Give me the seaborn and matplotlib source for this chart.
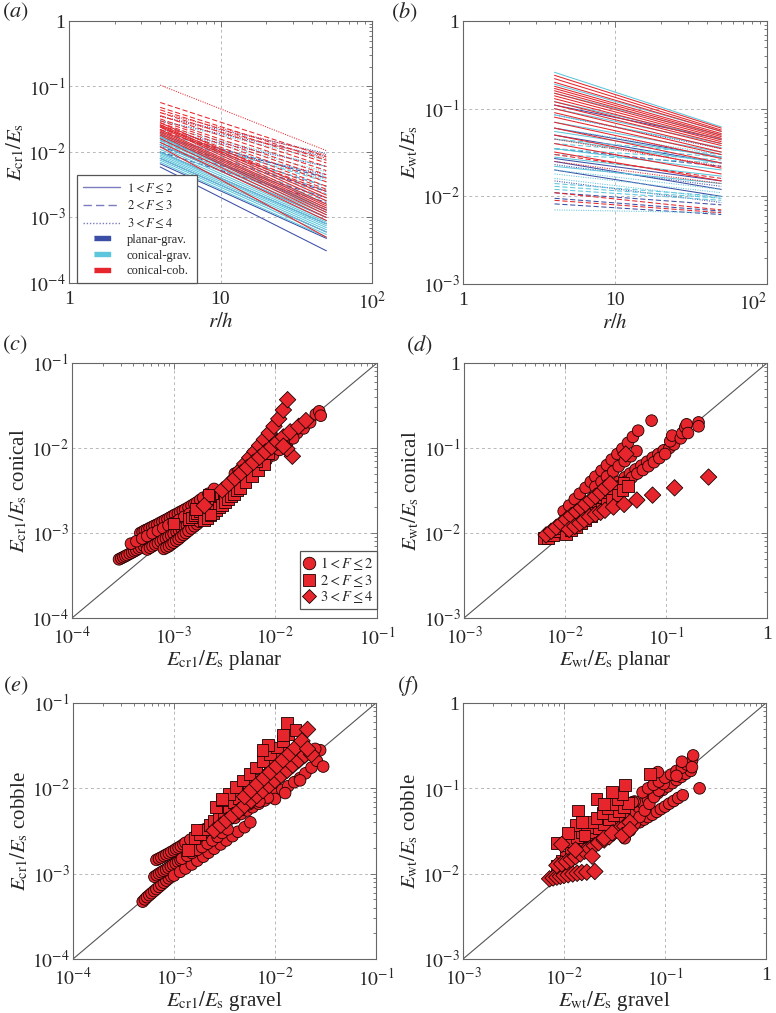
import pandas as pd
import matplotlib
matplotlib.use("Agg")
import matplotlib.pyplot as plt
import seaborn as sns
from matplotlib.lines import Line2D
from matplotlib.ticker import NullFormatter

sns.set_style("white")
plt.rcParams["font.family"] = ["Liberation Serif", "DejaVu Serif"]
plt.rcParams["mathtext.fontset"] = "stix"

# ---------------------------------------------------------------- data
R_H = [4, 50]  # r/h at both ends of every line (power laws -> straight in log-log)

# (F class, value at r/h=4, value at r/h=50) for panel (a)
A_PLANAR = [
    (3, 0.035, 0.0095), (3, 0.030, 0.0085), (3, 0.022, 0.0060), (3, 0.016, 0.0045),
    (2, 0.020, 0.0040), (2, 0.018, 0.0030), (2, 0.015, 0.0025), (2, 0.012, 0.0020), (2, 0.010, 0.0017),
    (1, 0.017, 0.0013), (1, 0.013, 0.0010), (1, 0.010, 0.0008), (1, 0.008, 0.0006),
    (1, 0.0066, 0.00048), (1, 0.0059, 0.00031),
]
A_CON_GRAV = [
    (3, 0.030, 0.0075), (3, 0.025, 0.0060), (3, 0.022, 0.0050), (3, 0.020, 0.0042), (3, 0.018, 0.0038),
    (2, 0.020, 0.0035), (2, 0.018, 0.0030), (2, 0.017, 0.0026), (2, 0.016, 0.0023), (2, 0.015, 0.0020),
    (2, 0.014, 0.0018),
    (1, 0.019, 0.0016), (1, 0.017, 0.0014), (1, 0.016, 0.0013), (1, 0.015, 0.0012), (1, 0.014, 0.0011),
    (1, 0.013, 0.0010), (1, 0.012, 0.0009), (1, 0.011, 0.00085), (1, 0.010, 0.0008), (1, 0.0095, 0.00075),
    (1, 0.009, 0.0007), (1, 0.0085, 0.00065), (1, 0.008, 0.0006), (1, 0.0075, 0.00055), (1, 0.007, 0.0005),
]
A_CON_COB = [
    (3, 0.105, 0.0105), (3, 0.040, 0.0090), (3, 0.035, 0.0080),
    (2, 0.057, 0.0085), (2, 0.048, 0.0075), (2, 0.044, 0.0068), (2, 0.040, 0.0060), (2, 0.036, 0.0052),
    (2, 0.032, 0.0045), (2, 0.030, 0.0040), (2, 0.028, 0.0035), (2, 0.026, 0.0030), (2, 0.024, 0.0027),
    (2, 0.022, 0.0025),
    (1, 0.028, 0.0022), (1, 0.026, 0.0020), (1, 0.025, 0.0018), (1, 0.024, 0.0016), (1, 0.022, 0.0015),
    (1, 0.021, 0.0014), (1, 0.020, 0.0013), (1, 0.019, 0.0012), (1, 0.018, 0.0011), (1, 0.016, 0.0010),
    (1, 0.014, 0.0009), (1, 0.012, 0.0005),
]

# panel (b)
B_PLANAR = [
    (1, 0.11, 0.045), (1, 0.060, 0.028), (1, 0.050, 0.024), (1, 0.027, 0.015), (1, 0.025, 0.012),
    (1, 0.020, 0.010),
    (2, 0.035, 0.022), (2, 0.011, 0.008), (2, 0.0095, 0.0068), (2, 0.0082, 0.0062),
    (3, 0.085, 0.035), (3, 0.023, 0.013), (3, 0.015, 0.0085),
]
B_CON_GRAV = [
    (1, 0.26, 0.062), (1, 0.19, 0.055), (1, 0.15, 0.050), (1, 0.12, 0.045), (1, 0.10, 0.040),
    (1, 0.085, 0.036), (1, 0.070, 0.032), (1, 0.055, 0.028), (1, 0.045, 0.024), (1, 0.035, 0.020),
    (1, 0.028, 0.017), (1, 0.022, 0.014),
    (2, 0.045, 0.030), (2, 0.040, 0.028), (2, 0.035, 0.026), (2, 0.030, 0.024), (2, 0.014, 0.010),
    (2, 0.013, 0.0095), (2, 0.012, 0.009),
    (3, 0.060, 0.030), (3, 0.020, 0.012), (3, 0.018, 0.011), (3, 0.016, 0.0095), (3, 0.007, 0.0065),
]
B_CON_COB = [
    (1, 0.24, 0.060), (1, 0.22, 0.057), (1, 0.20, 0.055), (1, 0.18, 0.052), (1, 0.17, 0.050),
    (1, 0.16, 0.048), (1, 0.15, 0.046), (1, 0.14, 0.044), (1, 0.13, 0.042), (1, 0.12, 0.040),
    (1, 0.11, 0.038), (1, 0.10, 0.035), (1, 0.09, 0.032), (1, 0.08, 0.030), (1, 0.07, 0.027),
    (1, 0.06, 0.024), (1, 0.05, 0.021), (1, 0.04, 0.018), (1, 0.032, 0.015),
    (2, 0.030, 0.016), (2, 0.011, 0.0070), (2, 0.009, 0.0065),
    (3, 0.045, 0.022), (3, 0.025, 0.014),
]

# scatter panels: (x, y) pairs per F class (1: circles, 2: squares, 3: diamonds)
C_CIRCLES = [
    (2.9e-4, 4.9e-4), (3.05e-4, 5.05e-4), (3.2e-4, 5.2e-4), (3.35e-4, 5.35e-4), (3.5e-4, 5.5e-4),
    (3.7e-4, 5.7e-4), (3.9e-4, 5.9e-4), (4.1e-4, 6.1e-4), (4.3e-4, 6.3e-4), (4.55e-4, 6.55e-4),
    (4.8e-4, 6.8e-4), (5.1e-4, 7.05e-4), (5.4e-4, 7.3e-4), (5.7e-4, 7.6e-4), (6.0e-4, 7.9e-4),
    (6.35e-4, 8.2e-4), (6.7e-4, 8.5e-4), (7.1e-4, 8.85e-4), (7.5e-4, 9.2e-4), (7.95e-4, 9.6e-4),
    (8.4e-4, 1.0e-3), (8.9e-4, 1.05e-3), (9.4e-4, 1.1e-3),
    (4.7e-4, 1.0e-3), (4.95e-4, 1.03e-3), (5.2e-4, 1.07e-3), (5.5e-4, 1.1e-3), (5.8e-4, 1.14e-3),
    (6.15e-4, 1.18e-3), (6.5e-4, 1.22e-3), (6.9e-4, 1.26e-3), (7.3e-4, 1.31e-3), (7.75e-4, 1.36e-3),
    (8.2e-4, 1.41e-3), (8.7e-4, 1.46e-3), (9.2e-4, 1.52e-3), (9.75e-4, 1.58e-3), (1.03e-3, 1.64e-3),
    (1.1e-3, 1.7e-3), (1.16e-3, 1.77e-3), (1.23e-3, 1.83e-3), (1.3e-3, 1.9e-3), (1.4e-3, 2.0e-3),
    (1.5e-3, 2.1e-3), (1.6e-3, 2.2e-3), (1.7e-3, 2.3e-3), (1.82e-3, 2.45e-3), (1.95e-3, 2.6e-3),
    (2.2e-3, 2.9e-3), (2.5e-3, 3.3e-3),
    (3.8e-4, 7.5e-4), (4.3e-4, 8.0e-4), (4.9e-4, 8.6e-4), (5.5e-4, 9.2e-4), (6.2e-4, 9.9e-4),
    (7.0e-4, 1.06e-3), (7.9e-4, 1.14e-3), (8.9e-4, 1.23e-3), (1.0e-3, 1.32e-3), (1.13e-3, 1.43e-3),
    (1.27e-3, 1.55e-3), (1.43e-3, 1.68e-3),
    (5.5e-4, 6.4e-4), (5.85e-4, 6.7e-4), (6.2e-4, 7.0e-4), (6.6e-4, 7.3e-4), (7.0e-4, 7.6e-4),
    (7.45e-4, 7.95e-4), (7.9e-4, 8.3e-4), (8.4e-4, 8.65e-4), (8.9e-4, 9.0e-4), (9.45e-4, 9.4e-4),
    (1.0e-3, 9.8e-4), (1.07e-3, 1.03e-3), (1.13e-3, 1.07e-3), (1.2e-3, 1.12e-3), (1.27e-3, 1.17e-3),
    (1.35e-3, 1.22e-3), (1.43e-3, 1.28e-3), (1.6e-3, 1.4e-3), (1.8e-3, 1.55e-3), (2.0e-3, 1.7e-3),
    (8.0e-4, 6.5e-4), (8.5e-4, 6.75e-4), (9.0e-4, 7.0e-4), (9.5e-4, 7.35e-4), (1.0e-3, 7.7e-4),
    (1.06e-3, 8.1e-4), (1.12e-3, 8.5e-4), (1.18e-3, 9.0e-4), (1.25e-3, 9.5e-4), (1.32e-3, 1.0e-3),
    (1.4e-3, 1.06e-3), (1.5e-3, 1.13e-3), (1.6e-3, 1.2e-3), (1.7e-3, 1.27e-3), (1.8e-3, 1.35e-3),
    (2.0e-3, 1.55e-3), (2.3e-3, 1.8e-3), (2.6e-3, 2.1e-3), (3.0e-3, 2.5e-3),
    (4.0e-3, 5.0e-3), (4.6e-3, 5.6e-3), (5.3e-3, 6.2e-3), (6.1e-3, 6.9e-3), (7.0e-3, 7.7e-3),
    (8.1e-3, 8.6e-3), (9.3e-3, 9.6e-3), (1.07e-2, 1.07e-2), (1.23e-2, 1.2e-2), (1.42e-2, 1.35e-2),
    (1.64e-2, 1.5e-2), (1.9e-2, 1.7e-2), (2.2e-2, 2.0e-2), (2.5e-2, 2.5e-2),
    (6.0e-3, 5.5e-3), (7.0e-3, 6.3e-3), (8.2e-3, 7.2e-3), (9.5e-3, 8.2e-3), (1.1e-2, 9.5e-3),
    (1.3e-2, 1.1e-2), (1.5e-2, 1.3e-2), (2.7e-2, 2.7e-2), (2.8e-2, 2.4e-2),
]
C_SQUARES = [
    (1.4e-3, 1.45e-3), (1.5e-3, 1.52e-3), (1.6e-3, 1.6e-3), (1.7e-3, 1.7e-3), (1.8e-3, 1.8e-3),
    (1.9e-3, 1.9e-3), (2.0e-3, 2.0e-3), (2.15e-3, 2.12e-3), (2.3e-3, 2.25e-3), (2.45e-3, 2.38e-3),
    (2.6e-3, 2.5e-3), (2.75e-3, 2.65e-3), (2.9e-3, 2.8e-3), (3.1e-3, 2.95e-3), (3.3e-3, 3.1e-3),
    (3.5e-3, 3.3e-3), (3.7e-3, 3.5e-3), (3.95e-3, 3.7e-3), (4.2e-3, 3.9e-3), (4.5e-3, 4.15e-3),
    (4.8e-3, 4.4e-3), (5.1e-3, 4.7e-3), (5.4e-3, 5.0e-3), (6.1e-3, 5.6e-3),
    (2.0e-3, 1.4e-3), (2.15e-3, 1.5e-3), (2.3e-3, 1.6e-3), (2.45e-3, 1.72e-3), (2.6e-3, 1.85e-3),
    (2.8e-3, 2.0e-3), (3.0e-3, 2.15e-3), (3.2e-3, 2.32e-3), (3.4e-3, 2.5e-3), (3.65e-3, 2.7e-3),
    (3.9e-3, 2.9e-3), (4.2e-3, 3.15e-3), (4.5e-3, 3.4e-3), (5.1e-3, 4.0e-3), (5.9e-3, 4.7e-3),
    (6.8e-3, 5.5e-3), (7.8e-3, 6.4e-3),
    (1.0e-3, 1.3e-3), (1.65e-3, 1.9e-3), (2.2e-3, 2.8e-3), (2.3e-3, 1.65e-3), (6.5e-3, 7.0e-3),
    (8.5e-3, 8.8e-3), (1.2e-2, 1.2e-2),
]
C_DIAMONDS = [
    (4.5e-3, 5.5e-3), (5.0e-3, 6.5e-3), (5.6e-3, 7.7e-3), (6.3e-3, 9.1e-3), (7.0e-3, 1.07e-2),
    (7.8e-3, 1.26e-2), (8.7e-3, 1.5e-2), (9.7e-3, 1.8e-2), (1.08e-2, 2.2e-2), (1.2e-2, 2.8e-2),
    (1.32e-2, 3.7e-2),
    (3.0e-3, 3.2e-3), (3.5e-3, 3.8e-3), (4.0e-3, 4.4e-3), (4.6e-3, 5.1e-3), (5.3e-3, 5.9e-3),
    (6.1e-3, 6.8e-3), (7.0e-3, 7.8e-3), (8.0e-3, 9.0e-3), (9.2e-3, 1.03e-2), (1.05e-2, 1.18e-2),
    (1.2e-2, 1.35e-2), (1.4e-2, 1.55e-2), (1.7e-2, 1.8e-2), (2.0e-2, 2.1e-2),
    (2.0e-3, 2.1e-3), (1.47e-2, 8.0e-3), (1.3e-2, 9.8e-3), (1.2e-2, 1.05e-2),
]

D_CIRCLES = [
    (0.0097, 0.018), (0.011, 0.021), (0.0125, 0.025), (0.014, 0.029), (0.016, 0.034),
    (0.018, 0.040), (0.020, 0.046), (0.023, 0.054), (0.026, 0.063), (0.029, 0.073),
    (0.033, 0.085), (0.037, 0.098), (0.042, 0.115), (0.047, 0.135), (0.053, 0.16),
    (0.020, 0.035), (0.023, 0.040), (0.026, 0.046), (0.030, 0.053), (0.034, 0.061),
    (0.039, 0.070), (0.045, 0.080), (0.051, 0.092),
    (0.026, 0.032), (0.030, 0.036), (0.034, 0.040), (0.039, 0.045), (0.044, 0.050),
    (0.050, 0.056), (0.057, 0.062), (0.065, 0.069), (0.074, 0.077), (0.084, 0.085),
    (0.095, 0.094), (0.108, 0.10), (0.12, 0.11),
    (0.035, 0.036), (0.040, 0.040), (0.046, 0.045), (0.052, 0.050), (0.059, 0.055),
    (0.067, 0.061), (0.076, 0.068), (0.086, 0.076), (0.098, 0.085),
    (0.11, 0.12), (0.115, 0.14), (0.14, 0.13), (0.145, 0.15), (0.155, 0.175),
    (0.16, 0.19), (0.165, 0.15), (0.21, 0.20), (0.21, 0.18), (0.072, 0.21),
]
D_SQUARES = [
    (0.0061, 0.0088), (0.0068, 0.0088), (0.0076, 0.0095), (0.0085, 0.0104), (0.0095, 0.0114),
    (0.0106, 0.0125), (0.012, 0.0137), (0.0135, 0.015), (0.015, 0.0165), (0.017, 0.018),
    (0.019, 0.020), (0.021, 0.022), (0.024, 0.025), (0.027, 0.028), (0.030, 0.031),
    (0.034, 0.035), (0.038, 0.039),
    (0.0103, 0.0098), (0.0115, 0.0107), (0.013, 0.0118), (0.0145, 0.013), (0.016, 0.0143),
    (0.018, 0.0158), (0.020, 0.0175), (0.023, 0.0195), (0.026, 0.022), (0.029, 0.0245),
    (0.033, 0.028), (0.037, 0.032), (0.042, 0.036),
]
D_DIAMONDS = [
    (0.0065, 0.0095), (0.0073, 0.0105), (0.0082, 0.0117), (0.0092, 0.013), (0.0103, 0.0145),
    (0.0115, 0.016), (0.013, 0.0178), (0.0145, 0.0198), (0.016, 0.022), (0.018, 0.0245),
    (0.020, 0.027), (0.0225, 0.030), (0.025, 0.034), (0.028, 0.038),
    (0.011, 0.011), (0.0125, 0.012), (0.014, 0.013), (0.0155, 0.0142), (0.0175, 0.0155),
    (0.020, 0.0166), (0.0225, 0.0175),
    (0.0249, 0.0185), (0.0302, 0.0202), (0.0385, 0.0217), (0.0514, 0.0244), (0.0736, 0.0279),
    (0.1216, 0.034), (0.264, 0.0455), (0.040, 0.085),
]

E_CIRCLES = [
    (4.9e-4, 4.7e-4), (5.15e-4, 5.0e-4), (5.4e-4, 5.3e-4), (5.7e-4, 5.6e-4), (6.0e-4, 5.9e-4),
    (6.35e-4, 6.25e-4), (6.7e-4, 6.6e-4), (7.1e-4, 7.0e-4), (7.5e-4, 7.4e-4), (7.95e-4, 7.85e-4),
    (8.4e-4, 8.3e-4), (8.9e-4, 8.8e-4), (9.4e-4, 9.3e-4), (1.0e-3, 9.8e-4), (1.05e-3, 1.04e-3),
    (1.12e-3, 1.1e-3), (1.18e-3, 1.17e-3), (1.25e-3, 1.23e-3), (1.32e-3, 1.3e-3), (1.4e-3, 1.37e-3),
    (1.48e-3, 1.45e-3), (1.65e-3, 1.6e-3), (1.85e-3, 1.8e-3),
    (6.4e-4, 9.2e-4), (6.75e-4, 9.6e-4), (7.1e-4, 1.0e-3), (7.5e-4, 1.04e-3), (7.9e-4, 1.08e-3),
    (8.35e-4, 1.12e-3), (8.8e-4, 1.17e-3), (9.3e-4, 1.22e-3), (9.8e-4, 1.27e-3), (1.04e-3, 1.32e-3),
    (1.1e-3, 1.38e-3), (1.16e-3, 1.44e-3), (1.22e-3, 1.5e-3), (1.29e-3, 1.56e-3), (1.36e-3, 1.63e-3),
    (1.44e-3, 1.7e-3), (1.52e-3, 1.78e-3), (1.7e-3, 1.95e-3), (1.9e-3, 2.15e-3), (2.1e-3, 2.4e-3),
    (2.35e-3, 2.65e-3), (2.6e-3, 2.95e-3),
    (6.7e-4, 1.45e-3), (7.1e-4, 1.5e-3), (7.5e-4, 1.55e-3), (7.95e-4, 1.61e-3), (8.4e-4, 1.67e-3),
    (8.9e-4, 1.73e-3), (9.4e-4, 1.8e-3), (1.0e-3, 1.87e-3), (1.05e-3, 1.95e-3), (1.11e-3, 2.02e-3),
    (1.17e-3, 2.1e-3), (1.24e-3, 2.2e-3), (1.3e-3, 2.3e-3), (1.45e-3, 2.5e-3), (1.62e-3, 2.75e-3),
    (1.8e-3, 3.0e-3), (2.0e-3, 3.3e-3),
    (1.0e-3, 9.5e-4), (1.15e-3, 1.05e-3), (1.3e-3, 1.15e-3), (1.5e-3, 1.28e-3), (1.7e-3, 1.42e-3),
    (1.95e-3, 1.58e-3), (2.2e-3, 1.76e-3), (2.5e-3, 1.96e-3), (2.9e-3, 2.2e-3), (3.3e-3, 2.45e-3),
    (3.8e-3, 2.75e-3), (4.3e-3, 3.1e-3), (5.0e-3, 3.5e-3), (5.7e-3, 4.0e-3),
    (1.2e-3, 1.5e-3), (1.35e-3, 1.62e-3), (1.5e-3, 1.75e-3), (1.7e-3, 1.9e-3), (1.9e-3, 2.05e-3),
    (2.15e-3, 2.25e-3), (2.4e-3, 2.45e-3), (2.7e-3, 2.7e-3), (3.0e-3, 3.0e-3), (3.4e-3, 3.3e-3),
    (4.0e-3, 4.5e-3), (4.6e-3, 5.0e-3), (5.3e-3, 5.5e-3), (6.0e-3, 6.0e-3), (6.9e-3, 6.6e-3),
    (7.9e-3, 7.2e-3), (9.0e-3, 7.9e-3), (1.03e-2, 8.7e-3), (1.18e-2, 9.6e-3), (1.35e-2, 1.06e-2),
    (1.55e-2, 1.18e-2), (1.77e-2, 1.32e-2), (2.0e-2, 1.5e-2), (2.3e-2, 1.75e-2), (2.6e-2, 2.1e-2),
    (2.8e-2, 2.8e-2), (2.5e-2, 2.9e-2), (3.0e-2, 1.8e-2), (1.77e-2, 1.24e-2), (1.26e-2, 8.8e-3),
    (1.0e-2, 7.5e-3), (8.5e-3, 7.8e-3), (7.0e-3, 7.0e-3), (5.5e-3, 6.5e-3), (4.5e-3, 5.5e-3),
]
E_SQUARES = [
    (1.6e-3, 2.6e-3), (1.8e-3, 2.9e-3), (2.0e-3, 3.3e-3), (2.25e-3, 3.7e-3), (2.5e-3, 4.2e-3),
    (2.8e-3, 4.7e-3), (3.1e-3, 5.3e-3), (3.5e-3, 6.0e-3), (3.9e-3, 6.8e-3), (4.4e-3, 7.7e-3),
    (4.9e-3, 8.7e-3), (5.5e-3, 9.9e-3), (6.2e-3, 1.12e-2), (7.0e-3, 1.27e-2), (7.9e-3, 1.45e-2),
    (8.9e-3, 1.65e-2), (1.0e-2, 1.9e-2), (1.13e-2, 2.2e-2), (1.27e-2, 2.6e-2),
    (2.6e-3, 6.0e-3), (3.0e-3, 7.2e-3), (3.5e-3, 8.6e-3), (4.1e-3, 1.03e-2), (4.8e-3, 1.23e-2),
    (5.6e-3, 1.47e-2), (6.5e-3, 1.75e-2), (7.6e-3, 2.1e-2), (8.9e-3, 2.5e-2), (1.04e-2, 3.0e-2),
    (1.2e-2, 3.6e-2), (1.35e-2, 4.3e-2),
    (1.32e-2, 5.8e-2), (1.6e-2, 4.8e-2), (1.2e-2, 4.2e-2), (8.5e-3, 3.2e-2), (7.5e-3, 2.8e-2),
    (3.0e-3, 7.5e-3), (1.67e-3, 3.3e-3), (1.38e-3, 1.9e-3),
]
E_DIAMONDS = [
    (2.5e-3, 3.2e-3), (2.9e-3, 3.7e-3), (3.3e-3, 4.2e-3), (3.8e-3, 4.8e-3), (4.4e-3, 5.5e-3),
    (5.0e-3, 6.3e-3), (5.8e-3, 7.2e-3), (6.6e-3, 8.2e-3), (7.6e-3, 9.4e-3), (8.8e-3, 1.08e-2),
    (1.0e-2, 1.24e-2), (1.15e-2, 1.42e-2), (1.32e-2, 1.63e-2), (1.5e-2, 1.87e-2), (1.72e-2, 2.15e-2),
    (1.97e-2, 2.45e-2),
    (5.0e-3, 8.0e-3), (5.8e-3, 9.5e-3), (6.7e-3, 1.12e-2), (7.8e-3, 1.32e-2), (9.0e-3, 1.55e-2),
    (1.04e-2, 1.82e-2), (1.2e-2, 2.15e-2), (1.4e-2, 2.55e-2), (1.6e-2, 3.0e-2), (1.85e-2, 3.6e-2),
    (2.1e-2, 4.9e-2),
    (2.3e-2, 2.5e-2), (2.1e-2, 2.9e-2),
]

F_CIRCLES = [
    (0.056, 0.040), (0.062, 0.043), (0.068, 0.046), (0.075, 0.049), (0.083, 0.053),
    (0.091, 0.057), (0.10, 0.061), (0.11, 0.066), (0.122, 0.071), (0.135, 0.077), (0.15, 0.083),
    (0.035, 0.040), (0.039, 0.044), (0.044, 0.049), (0.049, 0.054), (0.055, 0.060),
    (0.061, 0.066), (0.068, 0.073), (0.076, 0.080), (0.085, 0.088), (0.095, 0.096),
    (0.106, 0.105), (0.118, 0.115), (0.13, 0.125), (0.145, 0.136), (0.16, 0.148), (0.18, 0.16),
    (0.040, 0.026), (0.045, 0.032), (0.050, 0.038), (0.056, 0.046), (0.063, 0.055),
    (0.070, 0.066), (0.078, 0.079), (0.087, 0.094), (0.097, 0.112),
    (0.060, 0.090), (0.068, 0.10), (0.077, 0.11), (0.087, 0.12), (0.10, 0.133),
    (0.115, 0.145), (0.13, 0.16), (0.147, 0.175), (0.165, 0.19), (0.185, 0.21),
    (0.19, 0.243), (0.147, 0.205), (0.185, 0.177), (0.22, 0.10), (0.085, 0.155),
    (0.050, 0.070), (0.048, 0.069), (0.13, 0.14),
]
F_SQUARES = [
    (0.0085, 0.0125), (0.0095, 0.014), (0.0105, 0.0157), (0.0117, 0.0176), (0.013, 0.0197),
    (0.0145, 0.022), (0.016, 0.0246), (0.018, 0.0275), (0.020, 0.031), (0.022, 0.034),
    (0.025, 0.038), (0.028, 0.043), (0.031, 0.048), (0.035, 0.054), (0.039, 0.060), (0.043, 0.067),
    (0.012, 0.024), (0.0135, 0.027), (0.015, 0.031), (0.017, 0.035), (0.019, 0.040),
    (0.021, 0.045), (0.024, 0.051), (0.027, 0.058), (0.030, 0.066), (0.034, 0.075), (0.038, 0.085),
    (0.0138, 0.055), (0.021, 0.075), (0.071, 0.148), (0.030, 0.090), (0.040, 0.11),
    (0.025, 0.065), (0.013, 0.037), (0.015, 0.040), (0.0085, 0.023), (0.016, 0.028), (0.011, 0.030),
]
F_DIAMONDS = [
    (0.0072, 0.0087), (0.0078, 0.0089), (0.0085, 0.0091), (0.0092, 0.0093), (0.010, 0.0095),
    (0.011, 0.0097), (0.0122, 0.0099), (0.0135, 0.0101), (0.015, 0.0103), (0.0168, 0.0104),
    (0.0202, 0.0106),
    (0.0085, 0.0125), (0.0095, 0.013), (0.0106, 0.0138), (0.0118, 0.0147), (0.013, 0.0158),
    (0.0145, 0.017), (0.016, 0.0183), (0.018, 0.0197), (0.020, 0.0213), (0.022, 0.023),
    (0.025, 0.0248), (0.028, 0.027), (0.031, 0.030), (0.035, 0.033), (0.040, 0.036), (0.045, 0.040),
    (0.0095, 0.022), (0.013, 0.019), (0.019, 0.016), (0.025, 0.026), (0.030, 0.030),
    (0.038, 0.028), (0.045, 0.033),
]

F_LABELS = [r"$1 < F \leq 2$", r"$2 < F \leq 3$", r"$3 < F \leq 4$"]
GROUP_LABELS = ["planar-grav.", "conical-grav.", "conical-cob."]

# ---------------------------------------------------------------- style
BLUE, CYAN, RED = "#3b4ea6", "#5ec6dc", "#e6262c"
PALETTE = {"planar-grav.": BLUE, "conical-grav.": CYAN, "conical-cob.": RED}
DASHES = {1: "", 2: (5, 2.5), 3: (1, 1.3)}
F_LINE = "#7c7cc0"
GRID = "#b8b8b8"
SPINE = "#666666"
TICK_FS, LABEL_FS = 14, 15


def lines_frame(sets):
    rows = []
    for name, cases in zip(GROUP_LABELS, sets):
        for i, (f, e0, e1) in enumerate(cases):
            for r, e in zip(R_H, (e0, e1)):
                rows.append({"case": f"{name}{i}", "group": name, "F": f, "r": r, "E": e})
    return pd.DataFrame(rows)


def scatter_frame(circles, squares, diamonds):
    rows = []
    for f, pts in zip(["1", "2", "3"], [circles, squares, diamonds]):
        for x, y in pts:
            rows.append({"x": x, "y": y, "F": f})
    return pd.DataFrame(rows)


def dress(ax, xticks, xlabels, yticks, ylabels):
    ax.set_xscale("log")
    ax.set_yscale("log")
    ax.set_xlim(xticks[0], xticks[-1])
    ax.set_ylim(yticks[0], yticks[-1])
    ax.set_xticks(xticks, xlabels)
    ax.set_yticks(yticks, ylabels)
    ax.xaxis.set_minor_formatter(NullFormatter())
    ax.yaxis.set_minor_formatter(NullFormatter())
    ax.tick_params(which="both", direction="in", top=True, right=True,
                   labelsize=TICK_FS, color=SPINE, width=0.6)
    ax.tick_params(which="major", length=4)
    ax.tick_params(axis="x", which="major", pad=6)
    ax.tick_params(axis="y", which="major", pad=2.5)
    ax.tick_params(which="minor", length=2.2)
    ax.grid(True, which="major", color=GRID, ls=(0, (3, 3)), lw=0.7)
    for s in ax.spines.values():
        s.set_color(SPINE)
        s.set_linewidth(0.8)


def pw(lo, hi):
    vals, labs = [], []
    for k in range(lo, hi + 1):
        vals.append(10.0 ** k)
        labs.append("1" if k == 0 else ("10" if k == 1 else rf"$10^{{{k}}}$"))
    return vals, labs


fig = plt.figure(figsize=(7.76, 10.13), dpi=100)
W, H = 776, 1013


def axes_px(x0, x1, y0, y1):
    return fig.add_axes([x0 / W, 1 - y1 / H, (x1 - x0) / W, (y1 - y0) / H])


ax_a = axes_px(69, 372, 21, 283)
ax_b = axes_px(463, 767, 21, 284)
ax_c = axes_px(72, 377, 363, 618)
ax_d = axes_px(464, 767, 363, 618)
ax_e = axes_px(73, 376, 703, 959)
ax_f = axes_px(463, 766, 703, 959)

ylab_cr = r"$E_{\mathrm{cr1}}/E_{\mathrm{s}}$"
ylab_wt = r"$E_{\mathrm{wt}}/E_{\mathrm{s}}$"

# ---- (a), (b): lines
for ax, sets, ylo, ylab in [(ax_a, [A_PLANAR, A_CON_GRAV, A_CON_COB], -4, ylab_cr),
                            (ax_b, [B_PLANAR, B_CON_GRAV, B_CON_COB], -3, ylab_wt)]:
    df = lines_frame(sets)
    sns.lineplot(data=df, x="r", y="E", hue="group", style="F", units="case",
                 estimator=None, hue_order=GROUP_LABELS, palette=PALETTE,
                 dashes=DASHES, linewidth=0.75, legend=False, sort=False, ax=ax)
    xt, xl = pw(0, 2)
    yt, yl = pw(ylo, 0)
    dress(ax, xt, xl, yt, yl)
    ax.set_xlabel(r"$r/h$", fontsize=LABEL_FS, labelpad=0)
    ax.set_ylabel(ylab, fontsize=LABEL_FS, labelpad=1)

# keep the last x label of (b) inside the figure
ax_b.get_xticklabels()[-1].set_horizontalalignment("right")

handles = [Line2D([], [], color=F_LINE, lw=1, ls=ls) for ls in ["-", (0, (6, 3)), (0, (1, 1.3))]]
handles += [Line2D([], [], ls="none", marker=[(-3.4, -1), (3.4, -1), (3.4, 1), (-3.4, 1)],
                   markersize=11, color=c) for c in [BLUE, CYAN, RED]]
leg = ax_a.legend(handles, F_LABELS + GROUP_LABELS, loc="lower left",
                  bbox_to_anchor=(0.027, 0.0), fontsize=9, frameon=True,
                  fancybox=False, framealpha=1, edgecolor="#555555",
                  handlelength=3.0, labelspacing=0.3, borderpad=0.45,
                  handletextpad=0.5, borderaxespad=0.0)
leg.get_frame().set_linewidth(0.9)

# ---- (c)-(f): scatter
MARKERS = {"1": "o", "2": "s", "3": "D"}
scatter_panels = [
    (ax_c, (C_CIRCLES, C_SQUARES, C_DIAMONDS), (-4, -1), ylab_cr, "planar", "conical"),
    (ax_d, (D_CIRCLES, D_SQUARES, D_DIAMONDS), (-3, 0), ylab_wt, "planar", "conical"),
    (ax_e, (E_CIRCLES, E_SQUARES, E_DIAMONDS), (-4, -1), ylab_cr, "gravel", "cobble"),
    (ax_f, (F_CIRCLES, F_SQUARES, F_DIAMONDS), (-3, 0), ylab_wt, "gravel", "cobble"),
]
for ax, pts, (lo, hi), lab, xs, ys in scatter_panels:
    df = scatter_frame(*pts)
    ticks, labels = pw(lo, hi)
    ax.plot([ticks[0], ticks[-1]], [ticks[0], ticks[-1]], color="#555555", lw=0.8, zorder=1)
    sns.scatterplot(data=df, x="x", y="y", style="F", markers=MARKERS, color=RED,
                    edgecolor="#1a0000", linewidth=0.6, s=70, legend=False,
                    ax=ax, zorder=3)
    dress(ax, ticks, labels, ticks, labels)
    ax.set_xlabel(lab + " " + xs, fontsize=LABEL_FS, labelpad=0)
    ax.set_ylabel(lab + " " + ys, fontsize=LABEL_FS, labelpad=1)

mh = [Line2D([], [], ls="none", marker=m, markersize=ms, markerfacecolor=RED,
             markeredgecolor="#1a0000", markeredgewidth=0.6)
      for m, ms in [("o", 9), ("s", 8), ("D", 7.5)]]
leg = ax_c.legend(mh, F_LABELS, loc="lower right", bbox_to_anchor=(1.0, 0.035),
                  fontsize=10.5, frameon=True, fancybox=False, framealpha=1,
                  edgecolor="#555555", handlelength=0.8, labelspacing=0.05,
                  borderpad=0.25, handletextpad=0.3, borderaxespad=0.0)
leg.get_frame().set_linewidth(0.9)

# panel letters
for txt, x, y in [("a", 2, 12), ("b", 391, 12), ("c", 2, 345),
                  ("d", 406, 345), ("e", 3, 686), ("f", 397, 686)]:
    fig.text(x / W, 1 - y / H, rf"$(\mathit{{{txt}}})$", fontsize=16, va="center", ha="left")

fig.savefig("out.png", dpi=100)
